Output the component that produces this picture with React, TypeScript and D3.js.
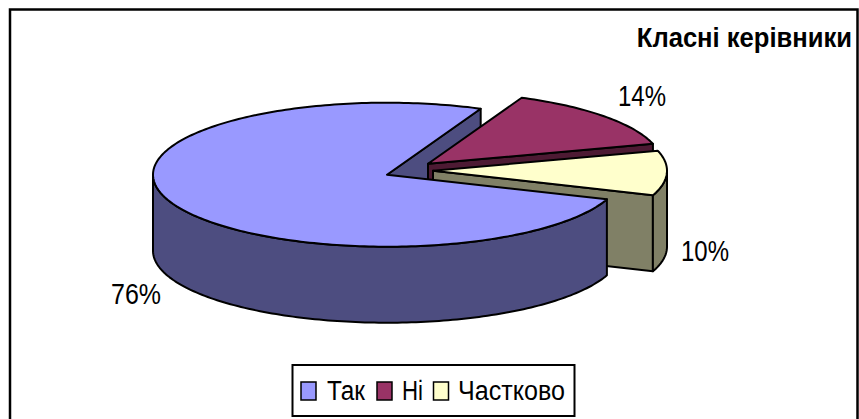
import React from "react";
import * as d3 from "d3";

const categories = ["Так", "Ні", "Частково"];
const values = [76, 14, 10];
const labels = ["76%", "14%", "10%"];
const topColors = ["#9999ff", "#993366", "#ffffcc"];
const wallColors = ["#4d4d80", "#4d1a33", "#808066"];

const W = 859, H = 419;
const cx = 387, cy = 174.7, rx = 234, ry = 72, depth = 76;
const firstAngle = 110;
const offsets: [number, number][] = [[0, 0], [41, -11], [46, -4]];

const pieGen = d3.pie<number>().sort(null).startAngle((firstAngle * Math.PI) / 180).endAngle(((firstAngle + 360) * Math.PI) / 180);
const arcs = pieGen(values);

const pt = (a: number, i: number, dy = 0): [number, number] => [
  cx + offsets[i][0] + rx * Math.sin(a),
  cy + offsets[i][1] + ry * -Math.cos(a) + dy,
];

function sample(a0: number, a1: number, i: number, dy = 0) {
  const n = Math.max(2, Math.ceil(Math.abs(a1 - a0) / 0.02));
  return d3.range(n + 1).map((k) => pt(a0 + ((a1 - a0) * k) / n, i, dy));
}
const line = d3.line().curve(d3.curveLinear);
const closed = (p: [number, number][]) => (line(p) as string) + "Z";

function topPath(i: number) {
  const a = arcs[i];
  return closed([[cx + offsets[i][0], cy + offsets[i][1]], ...sample(a.startAngle, a.endAngle, i)]);
}
function outerWall(i: number, a0: number, a1: number) {
  return closed([...sample(a0, a1, i), ...sample(a1, a0, i, depth)]);
}
function cutWall(i: number, a: number) {
  const c: [number, number] = [cx + offsets[i][0], cy + offsets[i][1]];
  const e = pt(a, i);
  return closed([c, e, [e[0], e[1] + depth], [c[0], c[1] + depth]]);
}

const D = Math.PI / 180;
const stroke = { stroke: "#000", strokeWidth: 2, strokeLinejoin: "round" as const };
const font = "'Liberation Sans', Arial, sans-serif";

export default function App() {
  return (
    <svg width={W} height={H} viewBox={`0 0 ${W} ${H}`} style={{ position: "fixed", left: 0, top: 0, background: "#fff" }}>
      <rect x={10} y={9.5} width={847.5} height={420} fill="#fff" stroke="#000" strokeWidth={2.5} />

      {/* back cut wall of the main slice */}
      <path d={cutWall(0, arcs[0].endAngle)} fill={wallColors[0]} {...stroke} />
      {/* Ні */}
      <path d={cutWall(1, arcs[1].endAngle)} fill={wallColors[1]} {...stroke} />
      <path d={topPath(1)} fill={topColors[1]} {...stroke} />
      {/* Частково */}
      <path d={cutWall(2, arcs[2].endAngle)} fill={wallColors[2]} {...stroke} />
      <path d={outerWall(2, 450 * D, arcs[2].endAngle)} fill={wallColors[2]} {...stroke} />
      <path d={topPath(2)} fill={topColors[2]} {...stroke} />
      {/* Так */}
      <path d={outerWall(0, arcs[0].startAngle, 270 * D)} fill={wallColors[0]} {...stroke} />
      <path d={topPath(0)} fill={topColors[0]} {...stroke} />

      <text transform="translate(852,46.5) scale(0.948,1)" textAnchor="end" fontFamily={font} fontWeight="bold" fontSize={27}>Класні керівники</text>
      <text x={111} y={304} fontFamily={font} fontSize={29} textLength={50} lengthAdjust="spacingAndGlyphs">{labels[0]}</text>
      <text x={618} y={106} fontFamily={font} fontSize={29} textLength={48} lengthAdjust="spacingAndGlyphs">{labels[1]}</text>
      <text x={681} y={261} fontFamily={font} fontSize={29} textLength={48} lengthAdjust="spacingAndGlyphs">{labels[2]}</text>

      <rect x={292.5} y={365} width={282} height={51} fill="#fff" stroke="#000" strokeWidth={2} />
      {categories.map((c, i) => {
        const sx = [301, 377, 433.5][i];
        const tx = [327, 402, 458][i];
        const tw = [38, 21, 107][i];
        return (
          <g key={c}>
            <rect x={sx} y={382} width={15} height={18} fill={topColors[i]} stroke="#000" strokeWidth={1.5} />
            <text x={tx} y={400} fontFamily={font} fontSize={27} textLength={tw} lengthAdjust="spacingAndGlyphs">{c}</text>
          </g>
        );
      })}
    </svg>
  );
}
